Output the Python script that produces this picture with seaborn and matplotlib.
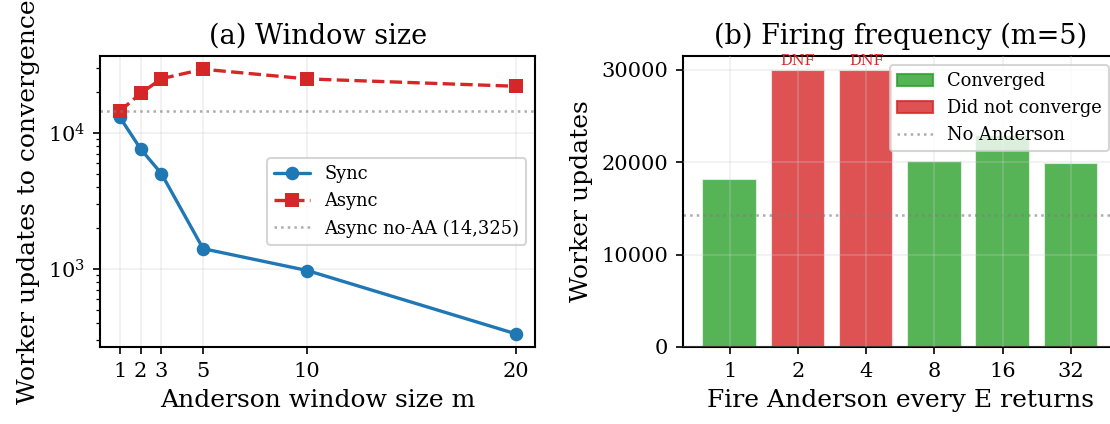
import matplotlib
matplotlib.use("Agg")
import matplotlib.pyplot as plt
from matplotlib.patches import Patch
from matplotlib.lines import Line2D
import pandas as pd
import seaborn as sns

# (a) window size sweep
window_sizes = [1, 2, 3, 5, 10, 20]
sync_updates = [13000, 7600, 5000, 1410, 975, 335]
async_updates = [14400, 19400, 24900, 29200, 24800, 21900]
no_aa_updates = 14325

# (b) firing frequency sweep, m=5 (DNF capped at 30000)
fire_every = ["1", "2", "4", "8", "16", "32"]
fire_updates = [18150, 30000, 30000, 20100, 22900, 19900]
fire_status = ["Converged", "Did not converge", "Did not converge",
               "Converged", "Converged", "Converged"]

GREEN = "#2ca02c"
RED = "#d62728"
BLUE = "#1f77b4"

sns.set_style("ticks")
plt.rcParams["font.family"] = ["DejaVu Serif"]
plt.rcParams.update({
    "axes.linewidth": 1.0,
    "axes.edgecolor": "black",
    "axes.labelcolor": "black",
    "text.color": "black",
    "xtick.color": "black",
    "ytick.color": "black",
})

fig, (ax1, ax2) = plt.subplots(1, 2, figsize=(7.4, 424 / 150), dpi=150)
fig.subplots_adjust(left=100 / 1110, right=1118 / 1110, bottom=77 / 424,
                    top=368 / 424, wspace=147 / 435)

# ---- (a) ----
sns.lineplot(x=window_sizes, y=sync_updates, ax=ax1, color=BLUE, marker="o",
             markersize=6.5, linewidth=1.6, markeredgewidth=0, label="Sync")
sns.lineplot(x=window_sizes, y=async_updates, ax=ax1, color=RED, marker="s",
             markersize=6.5, linewidth=1.6, markeredgewidth=0, linestyle="--",
             label="Async")
ax1.axhline(no_aa_updates, color="gray", linestyle=":", linewidth=1.2,
            alpha=0.65, label=f"Async no-AA ({no_aa_updates:,})")
ax1.set_yscale("log")
ax1.set_xticks(window_sizes)
ax1.set_xticklabels([str(m) for m in window_sizes])
ax1.grid(True, alpha=0.3)
ax1.grid(False, which="minor")
ax1.set_xlabel("Anderson window size m", fontsize=12)
ax1.set_ylabel("Worker updates to convergence", fontsize=12)
ax1.set_title("(a) Window size", fontsize=13)
ax1.tick_params(labelsize=10)
ax1.legend(loc="center right", fontsize=8.6, framealpha=0.8)

# ---- (b) ----
df = pd.DataFrame({"E": fire_every, "updates": fire_updates, "status": fire_status})
sns.barplot(data=df, x="E", y="updates", hue="status", dodge=False, ax=ax2,
            palette={"Converged": GREEN, "Did not converge": RED},
            alpha=0.8, width=0.8, legend=False, saturation=1)
for i, (u, s) in enumerate(zip(fire_updates, fire_status)):
    if s == "Did not converge":
        ax2.text(i, u + 200, "DNF", ha="center", va="bottom", fontsize=7, color=RED)
ax2.axhline(no_aa_updates, color="gray", linestyle=":", linewidth=1.2, alpha=0.65)
ax2.set_xlim(-0.69, len(fire_every) - 1 + 0.69)
ax2.set_ylim(0, 31500)
ax2.grid(True, alpha=0.3)
ax2.set_axisbelow(False)
ax2.set_xlabel("Fire Anderson every E returns", fontsize=12)
ax2.set_ylabel("Worker updates", fontsize=12)
ax2.set_title("(b) Firing frequency (m=5)", fontsize=13)
ax2.tick_params(labelsize=10)
handles = [
    Patch(facecolor=GREEN, edgecolor=GREEN, alpha=0.8, label="Converged"),
    Patch(facecolor=RED, edgecolor=RED, alpha=0.8, label="Did not converge"),
    Line2D([], [], color="gray", linestyle=":", linewidth=1.2, alpha=0.65, label="No Anderson"),
]
ax2.legend(handles=handles, loc="upper right", fontsize=8.6, framealpha=0.8)

fig.savefig("out.png", dpi=150)
